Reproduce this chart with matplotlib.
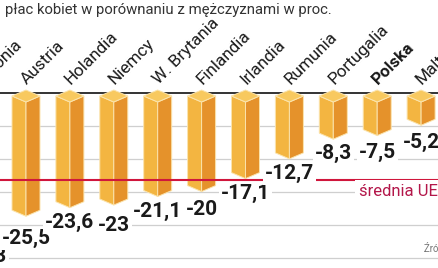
import matplotlib
matplotlib.use("Agg")
import matplotlib.pyplot as plt
from matplotlib.patches import Polygon
import numpy as np

plt.rcParams['font.family'] = ['Roboto', 'DejaVu Sans']

# dane: luka placowa (kobiety vs mezczyzni), w proc.
countries = ['Estonia', 'Austria', 'Holandia', 'Niemcy', 'W. Brytania', 'Finlandia',
             'Irlandia', 'Rumunia', 'Portugalia', 'Polska', 'Malta']
pay_gap = [-27.3, -25.5, -23.6, -23.0, -21.1, -20.0, -17.1, -12.7, -8.3, -7.5, -5.2]
eu_avg = -17.4
title = 'płac kobiet w porównaniu z mężczyznami w proc.'
source = 'Źródło: Eurostat'

# geometria w pikselach obrazka (439x268)
W, H = 439, 268
X0, STEP = 26, 43.9      # srodek slupka Austria, odstep
ZERO, UNIT = 102, 4.48   # piksel zera, pikseli na 1 pp

def px_x(p): return (p - X0) / STEP
def px_y(p): return (ZERO - p) / UNIT

# etykiety wartosci: dodatkowe przesuniecie w dol (px), zeby sie nie nakladaly
label_shift = [18, 8, 0, 6, 0, 3, 0, 0, 0, 2, 3]

fig = plt.figure(figsize=(W / 100, H / 100), dpi=100)
ax = fig.add_axes([0, 0, 1, 1])
ax.set_xlim(px_x(0), px_x(W))
ax.set_ylim(px_y(H), px_y(0))
ax.axis('off')

# linie tla
for k in range(1, 6):
    ax.axhline(px_y(93 + 33 * k), color='#cfcfcf', lw=0.9, zorder=1)
ax.axhline(px_y(93), color='#111111', lw=1.2, zorder=1)

x = np.arange(len(countries)) - 1
hw = 14 / STEP   # pol szerokosci slupka
d = 6 / UNIT     # glebokosc "3D"

def draw_bar(xc, v):
    left = [(xc - hw, d), (xc, 0), (xc, v), (xc - hw, v + d)]
    right = [(xc, 0), (xc + hw, d), (xc + hw, v + d), (xc, v)]
    top = [(xc - hw, d), (xc, 0), (xc + hw, d), (xc, 2 * d)]
    for pts, col in ((left, '#f3b541'), (right, '#e5922b'), (top, '#f8c95f')):
        ax.add_patch(Polygon(pts, closed=True, facecolor=col, edgecolor='#fbe4ad',
                             lw=0.7, zorder=2))

for xc, v, name, shift in zip(x, pay_gap, countries, label_shift):
    draw_bar(xc, v)
    ax.text(xc + 1 / STEP, px_y(85), name, rotation=45, rotation_mode='anchor',
            ha='left', va='baseline', fontsize=12.3, color='#1a1a1a',
            fontweight='bold' if name == 'Polska' else 'normal', zorder=4)
    lab = f"{v:g}".replace('.', ',')
    ax.text(xc, v - (5 + shift) / UNIT, lab, ha='center', va='top',
            fontsize=15, fontweight='bold', color='#1a1a1a', zorder=4,
            bbox=dict(facecolor='white', edgecolor='none', pad=1.5))

# srednia UE
ax.axhline(eu_avg, color='#d0163c', lw=1.5, zorder=3)
ax.text(px_x(359), px_y(192), 'średnia UE', ha='left', va='center', fontsize=12,
        color='#b3174a', zorder=4, bbox=dict(facecolor='white', edgecolor='none', pad=3))

fig.text(5 / W, 1 - 14 / H, title, ha='left', va='baseline', fontsize=10.7, color='#333333')
fig.text(424 / W, 1 - 252 / H, source, ha='left', va='baseline', fontsize=7, color='#777777')

fig.savefig('out.png', dpi=100)
